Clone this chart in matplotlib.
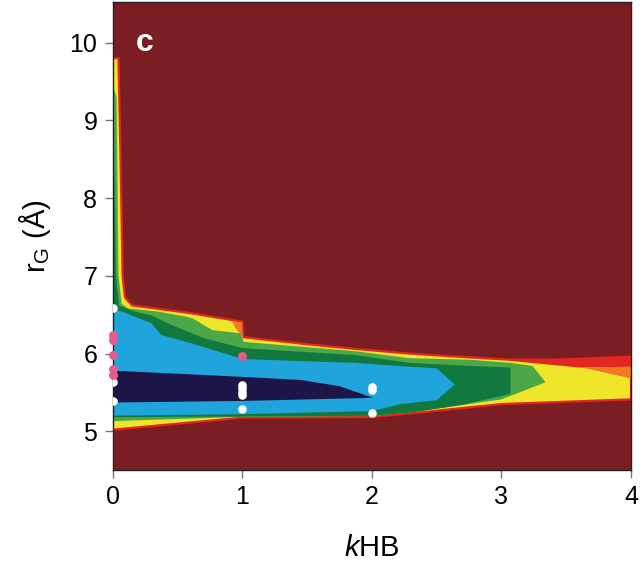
import numpy as np
import matplotlib
matplotlib.use("Agg")
import matplotlib.pyplot as plt

plt.rcParams['font.family'] = ['Liberation Sans', 'DejaVu Sans']
plt.rcParams['mathtext.fontset'] = 'custom'
plt.rcParams['mathtext.rm'] = 'Liberation Sans'
plt.rcParams['mathtext.it'] = 'Liberation Sans:italic'

# contour band boundaries (kHB, rG in Angstrom)
outer_top_k = [0, 0.045, 0.06, 0.07, 0.077, 0.095, 0.15, 0.6, 1.0, 1.01, 1.5, 1.87, 2.29, 2.76, 3.07, 3.4, 4.0]
outer_top_r = [9.80, 9.80, 8.60, 7.70, 7.00, 6.72, 6.62, 6.52, 6.41, 6.21, 6.12, 6.06, 6.00, 5.95, 5.92, 5.92, 5.96]
outer_bot_k = [0, 1.0, 2.0, 2.3, 3.0, 4.0]
outer_bot_r = [5.02, 5.175, 5.185, 5.23, 5.35, 5.41]

red_right_k = [3.07, 3.4, 4.0, 4.0, 3.6, 3.07]
red_right_r = [5.92, 5.92, 5.96, 5.83, 5.82, 5.905]
orange_right_k = [3.62, 4.0, 4.0]
orange_right_r = [5.82, 5.83, 5.68]
orange_step_k = [0.92, 1.0, 1.0, 0.96]
orange_step_r = [6.41, 6.40, 6.22, 6.30]

lgreen_top_k = [0, 0.03, 0.04, 0.045, 0.07, 0.12, 0.35, 0.58, 0.62, 0.77, 0.99, 1.01, 1.87, 2.29, 2.76, 3.07, 3.24, 3.34]
lgreen_top_r = [9.45, 9.30, 7.70, 7.00, 6.64, 6.58, 6.54, 6.47, 6.45, 6.30, 6.26, 6.15, 6.03, 5.94, 5.92, 5.88, 5.84, 5.63]
lgreen_bot_k = [0, 1.0, 2.0, 2.3, 3.0, 3.34]
lgreen_bot_r = [5.13, 5.185, 5.195, 5.245, 5.41, 5.63]

dgreen_top_k = [0, 0.02, 0.025, 0.05, 0.15, 0.30, 0.45, 0.70, 1.0, 1.87, 2.29, 2.76, 3.07, 3.07]
dgreen_top_r = [9.20, 7.70, 7.00, 6.62, 6.55, 6.49, 6.37, 6.20, 6.07, 5.98, 5.88, 5.84, 5.82, 5.48]
dgreen_bot_k = [0, 1.0, 2.0, 2.3, 2.7, 3.07]
dgreen_bot_r = [5.18, 5.19, 5.20, 5.24, 5.34, 5.48]

cyan_top_k = [0, 0.07, 0.30, 0.375, 0.63, 1.0, 1.5, 1.87, 2.29, 2.50, 2.64]
cyan_top_r = [6.56, 6.54, 6.39, 6.24, 6.12, 5.93, 5.90, 5.88, 5.83, 5.81, 5.60]
cyan_bot_k = [0, 1.0, 2.0, 2.22, 2.50, 2.64]
cyan_bot_r = [5.20, 5.22, 5.26, 5.35, 5.40, 5.60]

navy_top_k = [0, 1.0, 1.45, 1.75, 2.01]
navy_top_r = [5.78, 5.70, 5.66, 5.58, 5.43]
navy_bot_k = [0, 1.0, 2.01]
navy_bot_r = [5.37, 5.39, 5.43]

# simulation points
pink_k = [0, 0, 0, 0, 0, 1]
pink_r = [6.235, 6.18, 5.98, 5.80, 5.72, 5.97]
white_k = [0, 0, 0, 1, 1, 1, 1, 1, 2, 2, 2]
white_r = [6.58, 5.64, 5.39, 5.60, 5.555, 5.51, 5.465, 5.29, 5.57, 5.53, 5.23]

xticks = [0, 1, 2, 3, 4]
yticks = [5, 6, 7, 8, 9, 10]

c_bg = '#7b1e23'
c_red = '#e3261f'
c_orange = '#ef7a21'
c_yellow = '#efe62a'
c_lgreen = '#4ca748'
c_dgreen = '#10793d'
c_cyan = '#1fa4dc'
c_navy = '#1d1548'


def band(top_k, top_r, bot_k, bot_r):
    xs = list(top_k) + list(bot_k)[::-1]
    ys = list(top_r) + list(bot_r)[::-1]
    return xs, ys


fig = plt.figure(figsize=(6.4, 5.61), dpi=100)
ax = fig.add_axes([0.176, 0.162, 0.810, 0.834])
ax.set_facecolor(c_bg)

xs, ys = band(outer_top_k, outer_top_r, outer_bot_k, outer_bot_r)
ax.fill(xs, ys, facecolor=c_yellow, edgecolor=c_red, linewidth=1.6, zorder=1)
ax.fill(red_right_k, red_right_r, facecolor=c_red, linewidth=0, zorder=1.1)
ax.fill(orange_right_k, orange_right_r, facecolor=c_orange, linewidth=0, zorder=1.1)
ax.fill(orange_step_k, orange_step_r, facecolor=c_orange, linewidth=0, zorder=1.1)

layers = [
    (lgreen_top_k, lgreen_top_r, lgreen_bot_k, lgreen_bot_r, c_lgreen),
    (dgreen_top_k, dgreen_top_r, dgreen_bot_k, dgreen_bot_r, c_dgreen),
    (cyan_top_k, cyan_top_r, cyan_bot_k, cyan_bot_r, c_cyan),
    (navy_top_k, navy_top_r, navy_bot_k, navy_bot_r, c_navy),
]
for i, (tk, tr, bk, br, col) in enumerate(layers):
    xs, ys = band(tk, tr, bk, br)
    ax.fill(xs, ys, facecolor=col, linewidth=0, zorder=1.2 + 0.1 * i)

ax.scatter(white_k, white_r, s=38, color='white', linewidths=0, zorder=3)
ax.scatter(pink_k, pink_r, s=42, color='#e65b8d', linewidths=0, zorder=4, clip_on=False)

ax.text(0.062, 0.913, 'c', transform=ax.transAxes, color='white', fontsize=23,
        fontweight='bold', ha='center', va='center')

ax.set_xlim(0, 4)
ax.set_ylim(4.5, 10.52)
ax.set_xticks(xticks)
ax.set_yticks(yticks)
ax.tick_params(direction='out', length=6, width=1, color='#777777', labelsize=18, pad=5)
for s in ax.spines.values():
    s.set_color('#222222')
    s.set_linewidth(1)

ax.set_xlabel('$k$HB', fontsize=21, labelpad=18)
ax.set_ylabel(r'r$_\mathrm{G}$ (Å)', fontsize=21, labelpad=12)

fig.savefig('out.png', dpi=100)
